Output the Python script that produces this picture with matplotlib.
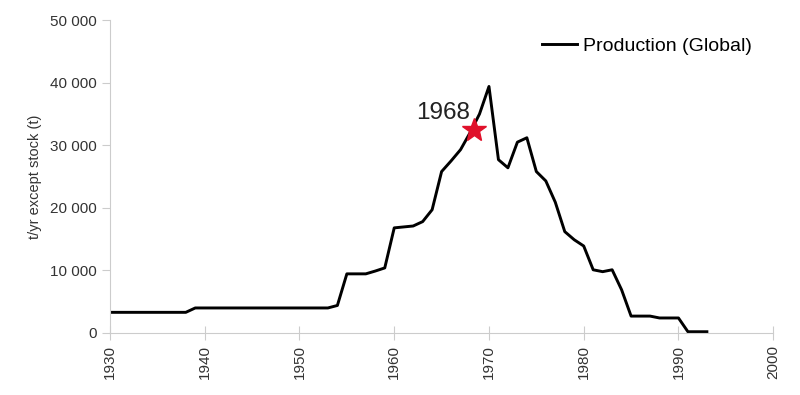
import numpy as np
import matplotlib.pyplot as plt
from matplotlib.ticker import FuncFormatter

years = [1930, 1938, 1939, 1953, 1954, 1955, 1957, 1958, 1959, 1960, 1962, 1963,
         1964, 1965, 1966, 1967, 1968, 1969, 1970, 1971, 1972, 1973, 1974, 1975,
         1976, 1977, 1978, 1979, 1980, 1981, 1982, 1983, 1984, 1985, 1987, 1988,
         1990, 1991, 1993]
production = [3300, 3300, 4000, 4000, 4400, 9450, 9450, 9900, 10400, 16800, 17100, 17800,
              19700, 25800, 27500, 29300, 32000, 35000, 39400, 27700, 26400, 30500, 31200, 25800,
              24300, 20900, 16200, 14900, 13900, 10100, 9800, 10100, 6900, 2700, 2700, 2400,
              2400, 200, 200]

star_year = 1968.4
star_value = 32500
star_label = '1968'

plt.rcParams['font.family'] = ['Liberation Sans', 'DejaVu Sans']

fig = plt.figure(figsize = (8, 3.95), dpi = 100)
ax = fig.add_axes([0.1375, 0.157, 0.829, 0.792])

ax.plot(years, production, color = 'black', lw = 2.1, label = 'Production (Global)')
ax.plot([star_year], [star_value], marker = '*', ms = 18, color = '#e0112b', ls = 'none')
ax.annotate(star_label, (star_year, star_value), xytext = (-4, 6), textcoords = 'offset pixels',
    ha = 'right', va = 'bottom', fontsize = 17.5, color = '#222222')

ax.set_xlim(1930, 2000)
ax.set_ylim(0, 50000)
ax.set_xticks(range(1930, 2001, 10))
ax.set_yticks(range(0, 50001, 10000))
ax.yaxis.set_major_formatter(FuncFormatter(lambda v, p: '{:,}'.format(int(v)).replace(',', ' ')))
for lbl in ax.get_xticklabels():
    lbl.set_rotation(90)

for s in ['top', 'right']:
    ax.spines[s].set_visible(False)
for s in ['left', 'bottom']:
    ax.spines[s].set_color('#cccccc')
ax.tick_params(axis = 'y', colors = '#cccccc', labelcolor = '#333333', labelsize = 11, length = 6)
ax.tick_params(axis = 'x', colors = '#cccccc', labelcolor = '#333333', labelsize = 11,
    length = 10, direction = 'inout', pad = 4)
ax.set_ylabel('t/yr except stock (t)', fontsize = 10.5, color = '#333333', labelpad = 5.5)

leg = ax.legend(loc = 'center left', frameon = False, fontsize = 14, handlelength = 1.8,
    handletextpad = 0.3, borderpad = 0, borderaxespad = 0,
    bbox_to_anchor = ((542 - 110) / 663, (333 - 46) / 313))

fig.savefig('out.png', dpi = 100)
